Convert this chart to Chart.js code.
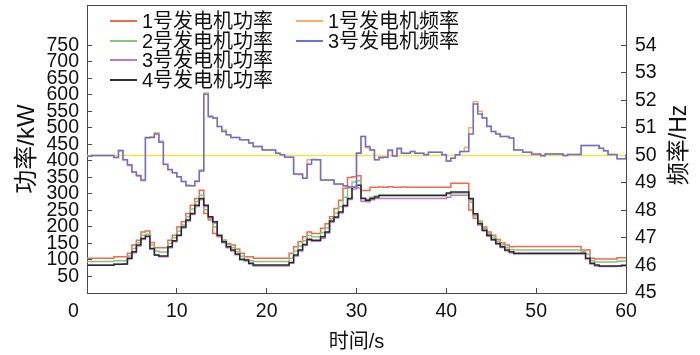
<!DOCTYPE html>
<html>
<head>
<meta charset="utf-8">
<script src="https://cdn.jsdelivr.net/npm/chart.js@4"></script>
<style>
html,body{margin:0;padding:0;background:#fff;}
#wrap{position:relative;width:700px;height:355px;}
#legend{position:absolute;left:0;top:0;width:700px;height:0;font-family:'Liberation Sans','Noto Sans CJK SC',sans-serif;font-size:20px;color:#111;pointer-events:none;}
.li{position:absolute;display:flex;align-items:center;height:20px;white-space:nowrap;line-height:20px;}
.li .sw{display:inline-block;width:27px;height:2px;margin-right:5px;}
</style>
</head>
<body>
<div id="wrap"><canvas id="c" width="700" height="355"></canvas><div id="legend"></div></div>
<script>
// ---- data ----
const times = [0,0.5,1,1.5,2,2.5,3,3.5,4,4.5,5,5.5,6,6.5,7,7.5,8,8.5,9,9.5,
  10,10.5,11,11.5,12,12.5,13,13.5,14,14.5,15,15.5,16,16.5,17,17.5,18,18.5,19,19.5,
  20,20.5,21,21.5,22,22.5,23,23.5,24,24.5,25,25.5,26,26.5,27,27.5,28,28.5,29,29.5,
  30,30.5,31,31.5,32,32.5,33,33.5,34,34.5,35,35.5,36,36.5,37,37.5,38,38.5,39,39.5,
  40,40.5,41,41.5,42,42.5,43,43.5,44,44.5,45,45.5,46,46.5,47,47.5,48,48.5,49,49.5,
  50,50.5,51,51.5,52,52.5,53,53.5,54,54.5,55,55.5,56,56.5,57,57.5,58,58.5,59,59.5,60];

const power1 = [105,105,105,105,105,105,110,110,110,120,
  145,160,185,188,153,137,137,137,160,175,
  200,216,241,266,286,311,241,221,180,170,
  160,150,145,133,120,110,110,105,105,105,
  105,105,105,105,105,120,140,155,170,185,
  180,180,196,210,231,256,281,317,350,352,
  355,310,310,320,320,321,320,322,320,320,
  321,320,320,320,320,320,320,320,320,320,
  320,332,332,332,332,251,226,215,200,185,
  175,162,152,145,140,141,141,141,141,141,
  141,141,141,141,141,141,141,141,141,141,
  130,130,105,103,103,103,103,103,107,107,107];

const power2 = [95,95,95,95,95,95,98,98,98,112,
  135,152,175,178,145,127,124,124,150,167,
  188,206,231,254,276,296,252,226,200,172,
  160,146,137,125,111,102,98,95,95,95,
  95,95,95,95,95,105,127,142,158,174,
  170,170,183,197,224,242,262,290,318,336,
  340,288,284,290,294,294,294,294,294,294,
  294,294,294,294,294,294,294,294,294,294,
  300,303,303,303,303,275,233,218,195,180,
  168,156,146,137,132,130,130,130,130,130,
  130,130,130,130,130,130,130,130,130,130,
  125,118,98,94,94,94,94,94,96,97,97];

const power3 = [85,85,85,85,85,85,87,87,87,103,
  122,142,162,170,133,114,110,110,137,155,
  173,197,218,238,262,282,262,228,212,172,
  152,137,127,116,100,97,88,82,82,82,
  82,82,82,82,82,90,112,127,144,160,
  157,157,166,182,214,227,242,262,283,315,
  318,278,276,282,286,286,286,286,286,286,
  286,286,286,286,286,286,286,286,286,286,
  290,296,296,296,296,282,236,206,188,172,
  160,148,138,128,122,118,118,118,118,118,
  118,118,118,118,118,118,118,118,118,118,
  118,103,88,82,80,80,80,80,81,82,84];

const power4 = [84,84,84,84,84,84,87,87,88,105,
  125,145,165,172,135,115,112,112,140,158,
  175,200,221,241,266,286,266,231,216,175,
  155,140,130,118,102,100,90,85,85,85,
  85,85,85,85,85,92,115,130,147,163,
  160,160,170,185,218,230,245,265,286,321,
  326,286,281,286,291,296,296,296,296,296,
  296,296,296,296,296,296,296,296,296,296,
  303,306,306,306,306,286,240,210,190,175,
  162,150,140,130,125,120,120,120,120,120,
  120,120,120,120,120,120,120,120,120,120,
  120,105,90,85,82,82,82,82,82,84,84];

const freq1 = [49.97,50.0,50.0,50.0,50.0,50.0,49.92,50.2,49.84,49.62,
  49.38,49.24,49.08,50.62,50.68,50.82,50.52,49.66,49.50,49.37,
  49.22,49.05,48.92,48.90,49.08,49.48,52.27,51.44,51.36,51.05,
  50.92,50.75,50.65,50.65,50.57,50.57,50.45,50.32,50.32,50.20,
  50.20,50.20,50.08,50.02,49.93,49.93,49.32,49.30,49.17,49.84,
  49.86,49.84,49.11,49.11,49.11,48.96,48.96,48.90,48.85,48.85,
  50.10,50.69,50.28,50.20,49.84,49.90,49.93,50.17,49.98,50.22,
  50.08,50.08,50.14,50.08,50.08,50.02,50.11,50.11,50.11,50.02,
  49.80,49.90,50.02,50.14,50.30,51.00,51.95,51.60,51.36,51.08,
  50.87,50.78,50.69,50.69,50.63,50.20,50.20,50.11,50.11,50.02,
  50.02,49.98,50.05,50.05,50.05,50.05,50.0,50.03,50.03,50.03,
  50.36,50.36,50.36,50.36,50.26,50.17,50.03,50.03,49.88,49.88,50.03];

const freq3 = [49.97,50.0,50.0,50.0,50.0,50.0,49.92,50.17,49.84,49.66,
  49.40,49.27,49.11,50.65,50.65,50.78,50.48,49.68,49.48,49.37,
  49.22,49.05,48.90,48.90,49.05,49.43,52.22,51.40,51.36,51.05,
  50.87,50.75,50.65,50.65,50.57,50.57,50.45,50.32,50.32,50.20,
  50.20,50.20,50.08,50.02,49.93,49.93,49.32,49.32,49.17,49.68,
  49.84,49.84,49.11,49.11,49.11,48.96,48.96,48.90,48.85,48.85,
  50.08,50.69,50.32,50.20,49.84,49.93,49.93,50.20,49.98,50.26,
  50.08,50.08,50.14,50.08,50.08,50.02,50.11,50.11,50.11,50.02,
  49.80,49.90,50.02,50.14,50.14,50.78,51.87,51.50,51.36,51.05,
  50.87,50.78,50.69,50.69,50.63,50.20,50.20,50.11,50.11,50.05,
  50.05,50.0,50.05,50.05,50.05,50.05,50.0,50.03,50.03,50.03,
  50.36,50.36,50.36,50.36,50.26,50.17,50.03,50.03,49.88,49.88,50.03];

const refTimes = [0, 60];
const refFreq = [50, 50];

const seriesLabels = ['1号发电机功率','2号发电机功率','3号发电机功率','4号发电机功率','1号发电机频率','3号发电机频率'];
const xTitle = '时间/s';
const leftTitle = '功率/kW';
const rightTitle = '频率/Hz';
const xTickValues = [0,10,20,30,40,50,60];
const leftTickValues = [50,100,150,200,250,300,350,400,450,500,550,600,650,700,750];
const rightTickValues = [45,46,47,48,49,50,51,52,53,54];

// ---- chart ----
const FONT = "'Liberation Sans','Noto Sans CJK SC',sans-serif";
Chart.defaults.font.family = FONT;
Chart.defaults.color = '#111';

const pts = (xs, ys) => xs.map((t, i) => ({x: t, y: ys[i]}));
const AX = '#4a4a4a';
const colors = ['#f2694c', '#82c684', '#c177c6', '#2b2b2b', '#f7b06c', '#6c70d0', '#efe34a'];

function lineDs(label, ys, color, axis, order, xs) {
  return {label, data: pts(xs || times, ys), borderColor: color, backgroundColor: color,
    borderWidth: 1.5, pointRadius: 0, stepped: true, tension: 0, fill: false,
    yAxisID: axis, order};
}

const datasets = [
  lineDs(seriesLabels[0], power1, colors[0], 'y', 6),
  lineDs(seriesLabels[1], power2, colors[1], 'y', 5),
  lineDs(seriesLabels[2], power3, colors[2], 'y', 4),
  lineDs(seriesLabels[3], power4, colors[3], 'y', 3),
  lineDs(seriesLabels[4], freq1, colors[4], 'y2', 2),
  lineDs(seriesLabels[5], freq3, colors[5], 'y2', 1),
  Object.assign(lineDs('50Hz', refFreq, colors[6], 'y2', 7, refTimes), {stepped: false})
];

const tickColor = (vals) => (ctx) => (ctx.tick && vals.includes(ctx.tick.value)) ? AX : 'rgba(0,0,0,0)';
const noPad = (s) => { s.paddingTop = 0; s.paddingBottom = 0; s.paddingLeft = 0; s.paddingRight = 0; };

const rightTitlePlugin = {
  id: 'rightTitlePlugin',
  afterDraw(chart) {
    const ctx = chart.ctx, a = chart.chartArea;
    ctx.save();
    ctx.translate(680, (a.top + a.bottom) / 2 - 4);
    ctx.rotate(-Math.PI / 2);
    ctx.font = '23px ' + FONT;
    ctx.fillStyle = '#111';
    ctx.textAlign = 'center';
    ctx.textBaseline = 'middle';
    ctx.fillText(rightTitle, 0, 0);
    ctx.restore();
  }
};

const chart = new Chart(document.getElementById('c'), {
  type: 'line',
  data: {datasets},
  plugins: [rightTitlePlugin],
  options: {
    responsive: false,
    animation: false,
    devicePixelRatio: 1,
    layout: {padding: {top: 5, left: 0, right: 0, bottom: 0}},
    plugins: {legend: {display: false}, tooltip: {enabled: false}},
    scales: {
      x: {
        type: 'linear', position: 'bottom', min: 0, max: 60,
        afterBuildTicks: (s) => { s.ticks = xTickValues.map(v => ({value: v})); },
        ticks: {autoSkip: false, maxRotation: 0, padding: 12, font: {size: 19.5}, color: '#111',
          callback: (v) => v === 0 ? '0\u00a0\u00a0\u00a0\u00a0\u00a0' : String(v)},
        grid: {drawOnChartArea: false, drawTicks: true, tickLength: -5, color: tickColor([10,20,30,40,50])},
        border: {display: true, color: AX, width: 1},
        title: {display: true, text: xTitle, font: {size: 20}, color: '#111', padding: {top: 0, bottom: 1}},
        afterFit: (s) => { s.height = 62; noPad(s); }
      },
      xTop: {
        type: 'linear', position: 'top', min: 0, max: 60,
        ticks: {display: false},
        grid: {display: true, drawOnChartArea: false, drawTicks: false, color: 'rgba(0,0,0,0)'},
        border: {display: true, color: AX, width: 1},
        afterFit: (s) => { s.height = 0; noPad(s); }
      },
      y: {
        type: 'linear', position: 'left', min: 0, max: 872,
        afterBuildTicks: (s) => { s.ticks = leftTickValues.map(v => ({value: v})); },
        ticks: {autoSkip: false, padding: 13, font: {size: 19.5}, color: '#111'},
        grid: {drawOnChartArea: false, drawTicks: true, tickLength: -5, color: AX},
        border: {display: true, color: AX, width: 1},
        title: {display: true, text: leftTitle, font: {size: 24}, color: '#111', padding: {top: 13, bottom: 0}},
        afterFit: (s) => { s.width = 87; noPad(s); }
      },
      y2: {
        type: 'linear', position: 'right', min: 45, max: 55.464,
        afterBuildTicks: (s) => { s.ticks = rightTickValues.map(v => ({value: v})); },
        ticks: {autoSkip: false, padding: 14, font: {size: 19.5}, color: '#111'},
        grid: {drawOnChartArea: false, drawTicks: true, tickLength: -5, color: tickColor([46,47,48,49,50,51,52,53,54])},
        border: {display: true, color: AX, width: 1},
        afterFit: (s) => { s.width = 74; noPad(s); }
      }
    }
  }
});

// ---- HTML legend (two columns, inside the plot) ----
const legendColumns = [[0,1,2,3],[4,5]];
const legendColLeft = [110, 296];
const legendRowCenter = [21, 40.5, 60, 79.5];
const legendEl = document.getElementById('legend');
legendColumns.forEach((col, ci) => {
  col.forEach((di, ri) => {
    const ds = chart.data.datasets[di];
    const item = document.createElement('div');
    item.className = 'li';
    item.style.left = legendColLeft[ci] + 'px';
    item.style.top = (legendRowCenter[ri] - 10) + 'px';
    const sw = document.createElement('span');
    sw.className = 'sw';
    sw.style.backgroundColor = ds.borderColor;
    const tx = document.createElement('span');
    tx.textContent = ds.label;
    item.appendChild(sw);
    item.appendChild(tx);
    legendEl.appendChild(item);
  });
});
</script>
</body>
</html>
